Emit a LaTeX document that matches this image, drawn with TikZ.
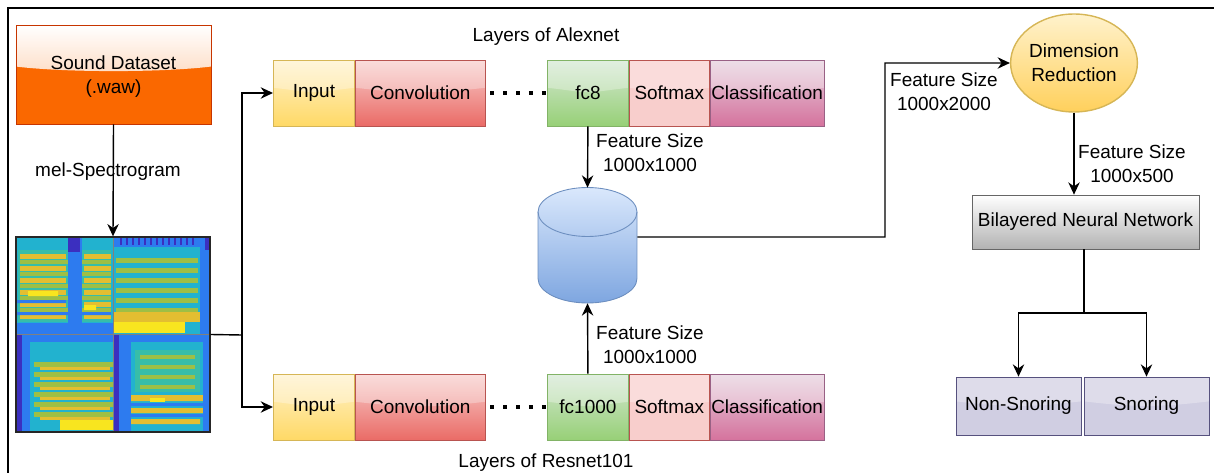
\documentclass[tikz,border=0pt]{standalone}
\usepackage{fontspec}
\setmainfont{Liberation Sans}
\usetikzlibrary{positioning,arrows.meta,shapes.geometric,calc}

% parula-like colours for the spectrogram
\definecolor{pdark}{HTML}{3B2FBF}
\definecolor{pblue}{HTML}{2D7BEF}
\definecolor{pcyan}{HTML}{22B2CF}
\definecolor{pteal}{HTML}{38BDA8}
\definecolor{pgreen}{HTML}{9EBF45}
\definecolor{pyel}{HTML}{E3BE31}
\definecolor{pbright}{HTML}{F8E51F}
% box colours
\definecolor{sdfill}{HTML}{FA6800}
\definecolor{sdline}{HTML}{C73500}
\definecolor{ytop}{HTML}{FFF2CC}
\definecolor{ybot}{HTML}{FFD966}
\definecolor{yline}{HTML}{D6B656}
\definecolor{rtop}{HTML}{F8CECC}
\definecolor{rbot}{HTML}{EA6B66}
\definecolor{rline}{HTML}{B85450}
\definecolor{gtop}{HTML}{D5E8D4}
\definecolor{gbot}{HTML}{97D077}
\definecolor{gline}{HTML}{82B366}
\definecolor{mtop}{HTML}{E6D0DE}
\definecolor{mbot}{HTML}{D5739D}
\definecolor{mline}{HTML}{996185}
\definecolor{btop}{HTML}{DAE8FC}
\definecolor{bbot}{HTML}{7EA6E0}
\definecolor{bline}{HTML}{6C8EBF}
\definecolor{lfill}{HTML}{D0CEE2}
\definecolor{lline}{HTML}{56517E}

\tikzset{
  glass/.style={path picture={
    \fill[white,opacity=#1] (path picture bounding box.north west) -- (path picture bounding box.north east)
      -- ($(path picture bounding box.north east)!0.42!(path picture bounding box.south east)$)
      .. controls +(-1cm,-0.12cm) and +(1cm,-0.12cm) ..
      ($(path picture bounding box.north west)!0.42!(path picture bounding box.south west)$) -- cycle;}},
  glass/.default=0.35,
  sdglass/.style={path picture={
    \shade[top color=white,bottom color=sdfill!45!white] (path picture bounding box.north west) -- (path picture bounding box.north east)
      -- ($(path picture bounding box.north east)!0.42!(path picture bounding box.south east)$)
      .. controls +(-1cm,-0.12cm) and +(1cm,-0.12cm) ..
      ($(path picture bounding box.north west)!0.42!(path picture bounding box.south west)$) -- cycle;}}
}

\begin{document}
\begin{tikzpicture}[x=0.02cm,y=-0.02cm,>={Stealth[length=7pt,width=6.5pt]},
  font=\fontsize{10.8}{13.6}\selectfont]
	\tikzstyle{layer}=[rectangle,draw,minimum height=1.32cm,inner sep=0pt,line width=0.5pt,glass=0.3]
	\tikzstyle{inp}=[layer,minimum width=1.62cm,top color=ytop,bottom color=ybot,draw=yline]
	\tikzstyle{conv}=[layer,minimum width=2.6cm,top color=rtop,bottom color=rbot,draw=rline]
	\tikzstyle{fc}=[layer,minimum width=1.62cm,top color=gtop,bottom color=gbot,draw=gline]
	\tikzstyle{soft}=[layer,minimum width=1.6cm,fill=rtop,draw=rline]
	\tikzstyle{cls}=[layer,minimum width=2.28cm,top color=mtop,bottom color=mbot,draw=mline]
	\tikzstyle{cls2}=[rectangle,draw=lline,fill=lfill,minimum width=2.5cm,minimum height=1.16cm,glass=0.3]
	\tikzstyle{dots}=[line width=2.1pt,dash pattern=on 2.1pt off 5.27pt,shorten <=2.5pt]
	\tikzstyle{flow}=[line width=0.8pt]

	\useasboundingbox (0,0) rectangle (1214,473);
	\draw[line width=1.1pt] (8,8) rectangle (1240,500);

	% input data
	\node[rectangle,fill=sdfill,draw=sdline,minimum width=3.9cm,minimum height=1.98cm,align=center,sdglass] (sd) at (113.5,74.5) {};
	\node[align=center] (sdtxt) at (113.5,77) {Sound Dataset\\(.waw)};

	% spectrogram, four clips
	\fill[pcyan] (16,237) rectangle (113,334);
	\fill[pteal] (18,250) rectangle (111,322);
	\foreach \y in {254,266,...,314} \fill[pyel] (20,\y) rectangle (66,\y+5);
	\foreach \y in {254,266,...,314} \fill[pyel] (84,\y) rectangle (111,\y+5);
	\foreach \y in {260,272,...,314} \fill[pgreen] (20,\y) rectangle (111,\y+4);
	\fill[pblue] (68,237) rectangle (82,334);
	\fill[pdark] (68,237) rectangle (80,252);
	\fill[pblue] (16,300) rectangle (66,303) (16,312) rectangle (111,315);
	\fill[pblue] (16,323) rectangle (113,334);
	\fill[pbright] (28,291) rectangle (58,296) (84,305) rectangle (96,310);

	\fill[pcyan] (113,237) rectangle (210,334);
	\fill[pblue] (113,237) rectangle (210,247);
	\foreach \x in {120,126,...,195} \fill[pdark] (\x,237) rectangle (\x+1.5,245);
	\foreach \y in {258,268,...,308} \fill[pgreen] (116,\y) rectangle (198,\y+5);
	\fill[pyel] (113,312) rectangle (200,322);
	\fill[pbright] (113,322) rectangle (185,333);
	\fill[pblue] (200,237) rectangle (210,334);
	\fill[pdark] (205,237) rectangle (210,250);

	\fill[pcyan] (16,334) rectangle (113,432);
	\fill[pblue] (16,334) rectangle (113,342);
	\fill[pblue] (16,334) rectangle (30,432);
	\fill[pdark] (16,334) rectangle (22,432);
	\foreach \y in {362,372,...,412} \fill[pgreen] (34,\y) rectangle (113,\y+5);
	\foreach \y in {367,377,...,417} \fill[pyel] (40,\y) rectangle (110,\y+3);
	\fill[pbright] (60,420) rectangle (113,430);

	\fill[pcyan] (113,334) rectangle (210,432);
	\fill[pblue] (113,334) rectangle (131,432);
	\fill[pdark] (113,334) rectangle (119,432);
	\fill[pblue] (131,334) rectangle (210,342);
	\fill[pteal] (135,350) rectangle (200,392);
	\foreach \y in {355,365,...,385} \fill[pgreen] (140,\y) rectangle (195,\y+4);
	\fill[pyel] (131,395) rectangle (205,401) (131,408) rectangle (205,413) (131,419) rectangle (200,424);
	\fill[pblue] (131,403) rectangle (205,406) (131,414) rectangle (205,417);
	\fill[pbright] (150,398) rectangle (165,402);
	\fill[pblue] (203,334) rectangle (210,432);
	\draw[black!50,line width=0.3pt] (16,334) -- (210,334) (113,237) -- (113,432);
	\node[draw=black!85,line width=0.8pt,minimum width=3.88cm,minimum height=3.9cm,inner sep=0pt] (spec) at (113,334.5) {};

	% Alexnet layers
	\node[inp, anchor=west] (in1) at (273,93) {Input};
	\node[conv, right=0pt of in1] (cv1) {Convolution};
	\node[fc, anchor=west] (fc1) at (547,93) {fc8};
	\node[soft, right=0pt of fc1] (sm1) {Softmax};
	\node[cls, right=0pt of sm1] (cl1) {Classification};
	\node (ttl1) at (546,37) {Layers of Alexnet};

	% Resnet101 layers
	\node[inp, anchor=west] (in2) at (273,407) {Input};
	\node[conv, right=0pt of in2] (cv2) {Convolution};
	\node[fc, anchor=west] (fc2) at (547,407) {fc1000};
	\node[soft, right=0pt of fc2] (sm2) {Softmax};
	\node[cls, right=0pt of sm2] (cl2) {Classification};
	\node (ttl2) at (546,463) {Layers of Resnet101};

	% feature store (cylinder)
	\shade[top color=btop,bottom color=bbot,draw=bline,line width=0.5pt] (538,212) -- (538,278.5)
	  arc[start angle=180,end angle=360,x radius=0.99cm,y radius=0.49cm] -- (637,212)
	  arc[start angle=0,end angle=180,x radius=0.99cm,y radius=0.49cm] -- cycle;
	\draw[bline,line width=0.5pt] (538,212) arc[start angle=180,end angle=360,x radius=0.99cm,y radius=0.49cm];
	\node[minimum width=1.98cm,minimum height=2.3cm,inner sep=0pt] (db) at (587.5,245.5) {};

	\node[ellipse,minimum width=2.52cm,minimum height=1.96cm,inner sep=0pt,align=center,top color=ytop,bottom color=ybot!90!orange,draw=yline,line width=0.8pt] (dr) at (1074,63) {Dimension\\Reduction};
	\node[rectangle,minimum width=4.54cm,minimum height=1.08cm,top color=white,bottom color=black!30,draw=black!60] (bnn) at (1085.5,222) {Bilayered Neural Network};
	\node[cls2] (ns) at (1018.5,406) {Non-Snoring};
	\node[cls2] (sn) at (1146.5,406) {Snoring};

	% connections
	\draw[flow,->] (sd.south) -- (spec.north);
	\node (lmel) at (108,172) {mel-Spectrogram};
	\coordinate (fork) at (242,335);
	\draw[flow] (spec.east) -- (fork);
	\draw[flow,->] (fork) |- (in1.west);
	\draw[flow,->] (fork) |- (in2.west);
	\draw[dots] (cv1.east) -- (fc1.west);
	\draw[dots] (cv2.east) -- (fc2.west);

	\draw[flow,->] (fc1.south) -- (db.north);
	\draw[flow,->] (fc2.north) -- (db.south);
	\node[align=center] (f1) at (650,153) {Feature Size\\1000x1000};
	\node[align=center] (f2) at (650,345) {Feature Size\\1000x1000};

	\draw[flow,->] ([yshift=0.17cm]db.east) -- (885,237) |- (dr.west);
	\node[align=center] (f3) at (944,92) {Feature Size\\1000x2000};
	\draw[flow,->] (dr.south) -- (bnn.north -| dr.south);
	\node[align=center] (f4) at (1132,164) {Feature Size\\1000x500};

	\coordinate (split) at (1084,313);
	\draw[flow] (bnn.south -| split) -- (split);
	\draw[flow,->] (split) -| (ns.north);
	\draw[flow,->] (split) -| (sn.north);
\end{tikzpicture}
\end{document}
